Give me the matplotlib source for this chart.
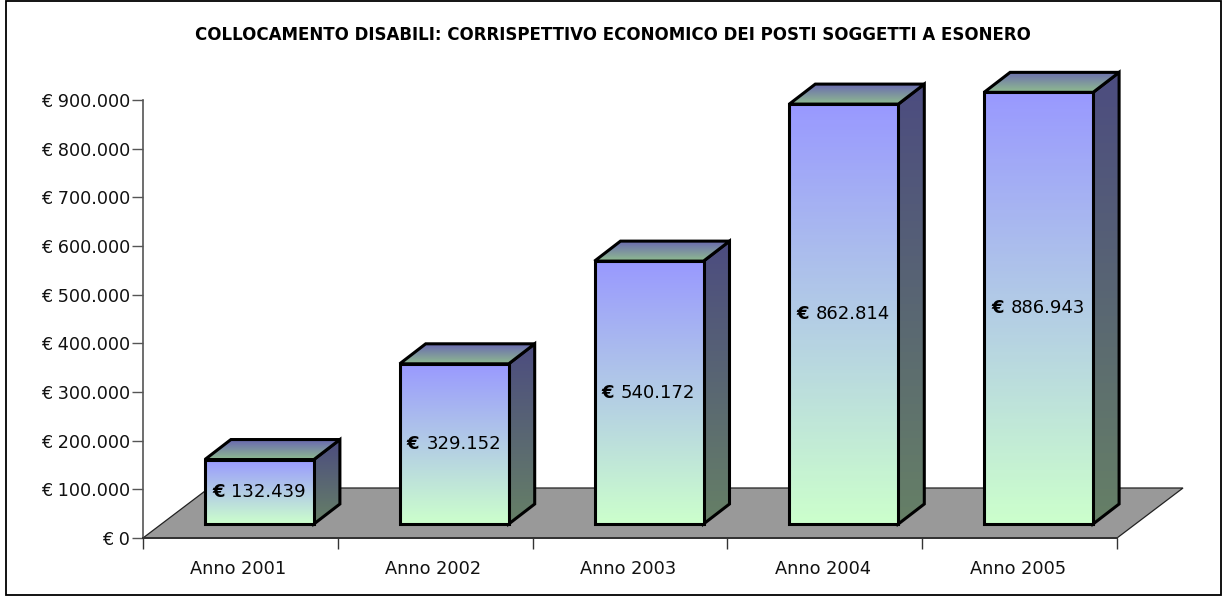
import numpy as np
import matplotlib
matplotlib.use("Agg")
from matplotlib import pyplot as plt
from matplotlib.patches import Polygon, Rectangle
from matplotlib.colors import LinearSegmentedColormap

categories = ["Anno 2001", "Anno 2002", "Anno 2003", "Anno 2004", "Anno 2005"]
values = [132439, 329152, 540172, 862814, 886943]
value_labels = ["132.439", "329.152", "540.172", "862.814", "886.943"]
y_ticks = [0, 100000, 200000, 300000, 400000, 500000, 600000, 700000, 800000, 900000]
y_tick_labels = ["€ 0", "€ 100.000", "€ 200.000", "€ 300.000", "€ 400.000",
                 "€ 500.000", "€ 600.000", "€ 700.000", "€ 800.000", "€ 900.000"]
title = "COLLOCAMENTO DISABILI: CORRISPETTIVO ECONOMICO DEI POSTI SOGGETTI A ESONERO"

W, H = 1223, 596
plt.rcParams['font.family'] = ['DejaVu Sans']

fig = plt.figure(figsize=(W / 100, H / 100), dpi=100)
fig.patches.append(Rectangle((6 / W, 1 / H), 1215 / W, 594 / H, transform=fig.transFigure,
                             fc="white", ec="black", lw=1.3, zorder=-1))

# axes box in pixels: x 143-1117, y 100-538
ax = fig.add_axes([143 / W, 1 - 538 / H, 974 / W, 438 / H])
ax.patch.set_visible(False)
for s in ["top", "right"]:
    ax.spines[s].set_visible(False)
ax.spines["left"].set_color("#555555")
ax.spines["left"].set_linewidth(1.2)
ax.spines["bottom"].set_color("#333333")
ax.spines["bottom"].set_linewidth(1.4)

xpx = 5 / 974        # categories per pixel
ypx = 900000 / 438   # euro per pixel


def gradient_face(corners, top, bottom, z):
    cmap = LinearSegmentedColormap.from_list("f", [top, bottom])
    xs = [c[0] for c in corners]
    ys = [c[1] for c in corners]
    img = ax.imshow(np.linspace(0, 1, 128).reshape(-1, 1), cmap=cmap, aspect="auto",
                    extent=(min(xs), max(xs), min(ys), max(ys)), zorder=z)
    poly = Polygon(corners, closed=True, fc="none", ec="black", lw=2.2, zorder=z + 0.1,
                   joinstyle="miter", clip_on=False)
    ax.add_patch(poly)
    # bars run past the top of the axes
    img.set_clip_box(fig.bbox)
    img.set_clip_path(poly)


# floor
fx, fy = 66 * xpx, 50 * ypx
ax.add_patch(Polygon([(0, 0), (5, 0), (5 + fx, fy), (fx, fy)], closed=True, fc="#999999",
                     ec="#222222", lw=0.9, zorder=1, clip_on=False))

# bars
bar_w = 109 * xpx
dx, dy = 26 * xpx, 20 * ypx
x_off, y_off = 19 * xpx, 14 * ypx
for i, v in enumerate(values):
    x0 = i + 0.5 + x_off - bar_w / 2
    x1 = x0 + bar_w
    y0, y1 = y_off, y_off + v
    z = 2 + i
    gradient_face([(x1, y0), (x1 + dx, y0 + dy), (x1 + dx, y1 + dy), (x1, y1)],
                  "#4c4c80", "#668066", z)
    gradient_face([(x0, y1), (x1, y1), (x1 + dx, y1 + dy), (x0 + dx, y1 + dy)],
                  "#6a6ab0", "#8fbb8f", z + 0.2)
    gradient_face([(x0, y0), (x1, y0), (x1, y1), (x0, y1)],
                  "#9999ff", "#ccffcc", z + 0.4)
    cx, cy = (x0 + x1) / 2, (y0 + y1) / 2 + 2 * ypx
    ax.text(cx - 35 * xpx, cy, "€", ha="right", va="center_baseline", fontsize=13,
            fontweight="bold", color="black", zorder=20)
    ax.text(cx - 28 * xpx, cy, value_labels[i], ha="left", va="center_baseline", fontsize=13,
            color="black", zorder=20)

ax.set_xlim(0, 5)
ax.set_ylim(0, 900000)
ax.set_xticks(range(6))
ax.set_xticklabels([])
ax.set_xticks([i + 0.5 - 2 * xpx for i in range(5)], labels=categories, minor=True)
ax.tick_params(axis="x", which="major", length=8, width=1, color="#333333")
ax.tick_params(axis="x", which="minor", length=0, pad=16, labelsize=12.8, labelcolor="#111111")
ax.set_yticks(y_ticks, labels=y_tick_labels)
ax.tick_params(axis="y", length=8, width=1, color="#555555", pad=1.5, labelsize=12.7, labelcolor="#111111")

fig.text(613 / W, 1 - 35 / H, title, ha="center", va="center", fontsize=12,
         fontweight="bold", color="black")

fig.savefig("out.png", dpi=100)
